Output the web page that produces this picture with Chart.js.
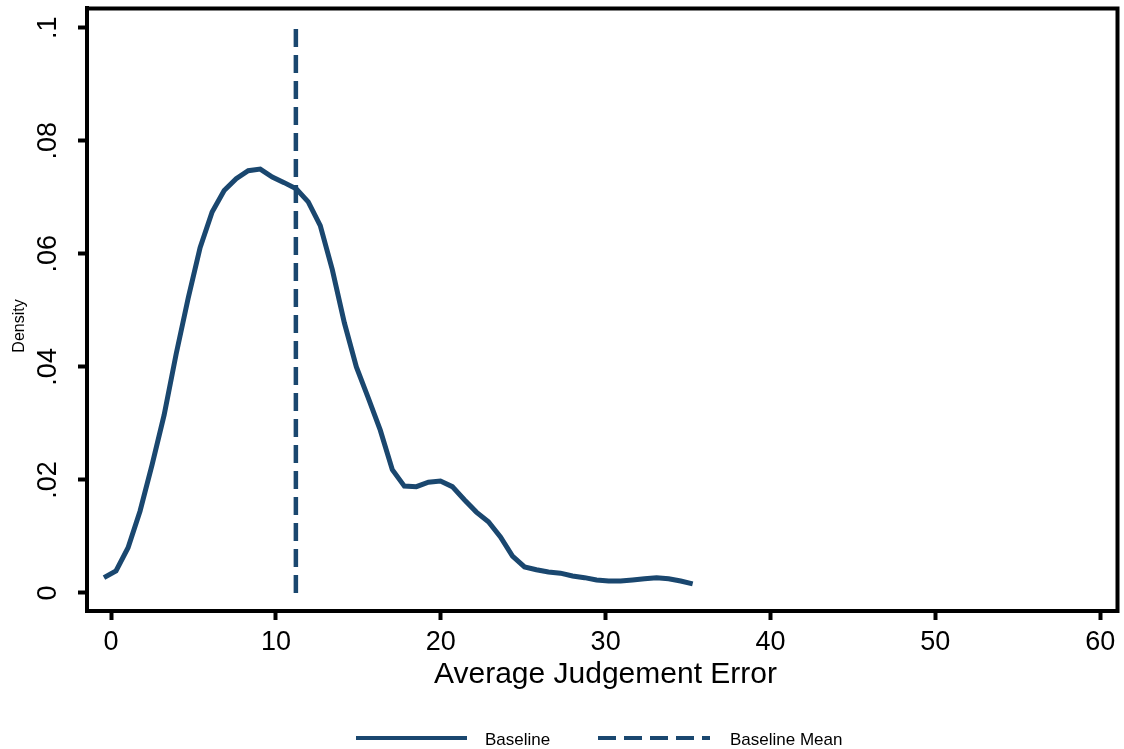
<!DOCTYPE html>
<html>
<head>
<meta charset="utf-8">
<script src="https://cdn.jsdelivr.net/npm/chart.js@4/dist/chart.umd.min.js"></script>
<style>
  body { margin: 0; background: #fff; }
  #wrap { width: 1124px; height: 749px; }
</style>
</head>
<body>
<div id="wrap"><canvas id="densityChart" width="1124" height="749"></canvas></div>
<script>
// kernel density points
let errorX = [-0.43, 0.30, 1.03, 1.76, 2.49, 3.22, 3.95, 4.68, 5.40, 6.13,
              6.86, 7.59, 8.32, 9.05, 9.78, 10.50, 11.23, 11.96, 12.69, 13.42,
              14.15, 14.88, 15.60, 16.33, 17.06, 17.79, 18.52, 19.25, 19.98, 20.70,
              21.43, 22.16, 22.89, 23.62, 24.35, 25.08, 25.80, 26.53, 27.26, 27.99,
              28.72, 29.45, 30.18, 30.91, 31.63, 32.36, 33.09, 33.82, 34.55, 35.28]
let densityY = [0.0027, 0.0039, 0.0080, 0.0145, 0.0227, 0.0315, 0.0423, 0.0522, 0.0611, 0.0674,
                0.0712, 0.0733, 0.0747, 0.0750, 0.0736, 0.0726, 0.0715, 0.0692, 0.0650, 0.0572,
                0.0478, 0.0400, 0.0345, 0.0288, 0.0218, 0.0189, 0.0188, 0.0196, 0.0198, 0.0188,
                0.0165, 0.0143, 0.0126, 0.0099, 0.0065, 0.0046, 0.0041, 0.0037, 0.0035, 0.0030,
                0.0027, 0.0023, 0.0021, 0.0021, 0.0023, 0.0025, 0.0027, 0.0025, 0.0021, 0.0016]

let meanX = 11.21
let meanY = [0, 0.1]

let xTicks = [0, 10, 20, 30, 40, 50, 60]
let yTicks = [0, 0.02, 0.04, 0.06, 0.08, 0.1]
let yTickLabels = ["0", ".02", ".04", ".06", ".08", ".1"]

let seriesNames = ["Baseline", "Baseline Mean"]
let navy = "#1a476f"
let fontName = "'Liberation Sans', Arial, sans-serif"

let curvePoints = errorX.map(function (x, i) { return { x: x, y: densityY[i] } })
let meanPoints = meanY.map(function (y) { return { x: meanX, y: y } })

// texts, box and legend drawn on top
let extras = {
    id: "extras",
    afterDraw: function (chart) {
        let ctx = chart.ctx
        let area = chart.chartArea
        let xs = chart.scales.x
        let ys = chart.scales.y
        ctx.save()

        // top and right sides of the box
        ctx.strokeStyle = "#000"
        ctx.lineWidth = 4
        ctx.beginPath()
        ctx.moveTo(area.left - 2, area.top + 0.5)
        ctx.lineTo(area.right - 0.5, area.top + 0.5)
        ctx.lineTo(area.right - 0.5, area.bottom + 2)
        ctx.stroke()

        ctx.fillStyle = "#000"

        // x tick labels
        ctx.font = "27px " + fontName
        ctx.textAlign = "center"
        ctx.textBaseline = "middle"
        xTicks.forEach(function (v) {
            ctx.fillText(String(v), xs.getPixelForValue(v), 643)
        })

        // y tick labels, turned
        yTicks.forEach(function (v, i) {
            ctx.save()
            ctx.translate(49, ys.getPixelForValue(v))
            ctx.rotate(-Math.PI / 2)
            ctx.fillText(yTickLabels[i], 0, 0)
            ctx.restore()
        })

        // axis titles
        ctx.font = "30px " + fontName
        ctx.fillText("Average Judgement Error", (area.left + area.right) / 2 + 3, 675)

        ctx.save()
        ctx.font = "16px " + fontName
        ctx.translate(20, 326)
        ctx.rotate(-Math.PI / 2)
        ctx.fillText("Density", 0, 0)
        ctx.restore()

        // legend
        ctx.strokeStyle = navy
        ctx.lineWidth = 4
        ctx.beginPath()
        ctx.moveTo(356, 738)
        ctx.lineTo(467, 738)
        ctx.stroke()
        ctx.setLineDash([18, 8])
        ctx.beginPath()
        ctx.moveTo(598, 738)
        ctx.lineTo(710, 738)
        ctx.stroke()
        ctx.setLineDash([])

        ctx.font = "17px " + fontName
        ctx.textAlign = "left"
        ctx.fillText(seriesNames[0], 485, 740)
        ctx.fillText(seriesNames[1], 730, 740)

        ctx.restore()
    }
}

let ctx = document.getElementById("densityChart").getContext("2d")
let chart = new Chart(ctx, {
    type: "line",
    data: {
        datasets: [{
            label: seriesNames[0],
            data: curvePoints,
            borderColor: navy,
            borderWidth: 5,
            pointRadius: 0,
            tension: 0,
            fill: false
        }, {
            label: seriesNames[1],
            data: meanPoints,
            borderColor: navy,
            borderWidth: 4.5,
            borderDash: [18, 8],
            borderCapStyle: "butt",
            pointRadius: 0,
            fill: false
        }]
    },
    options: {
        responsive: false,
        animation: false,
        layout: { padding: { top: 8, right: 6, left: 0, bottom: 0 } },
        plugins: {
            legend: { display: false },
            tooltip: { enabled: false }
        },
        scales: {
            x: {
                type: "linear",
                min: -1.46,
                max: 61.08,
                afterBuildTicks: function (s) { s.ticks = xTicks.map(function (v) { return { value: v } }) },
                afterFit: function (s) { s.height = 138 },
                ticks: { display: false },
                grid: { drawOnChartArea: false, drawTicks: true, tickLength: 9, tickWidth: 4, tickColor: "#000" },
                border: { display: true, color: "#000", width: 4 }
            },
            y: {
                type: "linear",
                min: -0.0032,
                max: 0.1035,
                afterBuildTicks: function (s) { s.ticks = yTicks.map(function (v) { return { value: v } }) },
                afterFit: function (s) { s.width = 87 },
                ticks: { display: false },
                grid: { drawOnChartArea: false, drawTicks: true, tickLength: 9, tickWidth: 4, tickColor: "#000" },
                border: { display: true, color: "#000", width: 4 }
            }
        }
    },
    plugins: [extras]
})
</script>
</body>
</html>
